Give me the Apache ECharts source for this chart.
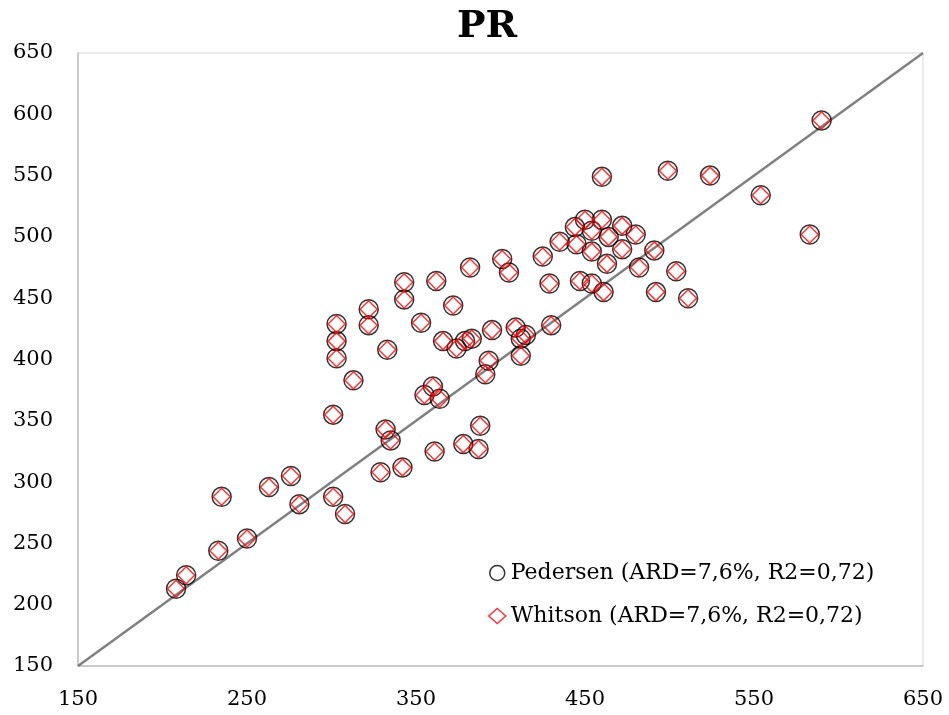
<!DOCTYPE html>
<html>
<head>
<meta charset="utf-8">
<script src="https://cdn.jsdelivr.net/npm/echarts@6/dist/echarts.min.js"></script>
<style>
html,body{margin:0;padding:0;background:#fff;}
#chart{width:949px;height:715px;}
</style>
</head>
<body>
<div id="chart"></div>
<script>
// Experimental values (x)
const expPR = [208,214,233,250,235,263,276,281,301,308,301,303,303,303,313,322,322,333,332,335,329,342,343,343,353,355,360,364,361,362,366,372,374,379,383,378,387,388,382,391,393,395,401,405,409,412,415,412,425,429,430,435,444,445,447,450,454,454,454,460,460,461,463,464,472,472,480,482,491,492,499,504,511,524,554,583,590];
// Calculated values (y)
const pedersenPR = [213,224,244,254,288,296,305,282,288,274,355,401,415,429,383,441,428,408,343,334,308,312,463,449,430,371,378,368,325,464,415,444,409,415,417,331,327,346,475,388,399,424,482,471,426,417,420,403,484,462,428,496,508,494,464,514,505,488,462,514,549,455,478,500,509,490,502,475,489,455,554,472,450,550,534,502,595];
const whitsonPR = [213,224,244,254,288,296,305,282,288,274,355,401,415,429,383,441,428,408,343,334,308,312,463,449,430,371,378,368,325,464,415,444,409,415,417,331,327,346,475,388,399,424,482,471,426,417,420,403,484,462,428,496,508,494,464,514,505,488,462,514,549,455,478,500,509,490,502,475,489,455,554,472,450,550,534,502,595];
const identityLine = [150, 650];
const xTicks = [150,250,350,450,550,650];
const yTicks = [150,200,250,300,350,400,450,500,550,600,650];
const seriesNames = ['Pedersen (ARD=7,6%, R2=0,72)', 'Whitson (ARD=7,6%, R2=0,72)'];
const chartTitle = 'PR';

const FONT = 'DejaVu Serif';
const chart = echarts.init(document.getElementById('chart'), null, {renderer: 'canvas'});
const pedData = expPR.map((x, i) => [x, pedersenPR[i]]);
const whiData = expPR.map((x, i) => [x, whitsonPR[i]]);
const lineData = identityLine.map(v => [v, v]);

chart.setOption({
  animation: false,
  backgroundColor: '#fff',
  title: {
    text: chartTitle,
    left: 452, top: 3,
    textStyle: {fontFamily: FONT, fontWeight: 'bold', fontSize: 38, color: '#000'}
  },
  grid: {left: 78, right: 26, top: 53, bottom: 49, show: true, borderColor: '#d9d9d9', borderWidth: 1},
  legend: {
    orient: 'vertical',
    left: 483, top: 557,
    itemWidth: 17, itemHeight: 15, itemGap: 21,
    textStyle: {fontFamily: FONT, fontSize: 22, color: '#000'},
    data: [
      {name: seriesNames[0], icon: 'circle', itemStyle: {color: 'rgba(255,255,255,0)', borderColor: '#000', borderWidth: 1.5}},
      {name: seriesNames[1], icon: 'diamond', itemStyle: {color: 'rgba(255,255,255,0)', borderColor: '#ff0000', borderWidth: 1.5}}
    ]
  },
  xAxis: {
    type: 'value', min: 150, max: 650,
    axisLine: {show: true, onZero: false, lineStyle: {color: '#bfbfbf', width: 1.5}},
    axisTick: {show: false},
    splitLine: {show: false},
    axisLabel: {customValues: xTicks, fontFamily: FONT, fontSize: 21, color: '#000', margin: 23, showMinLabel: true, showMaxLabel: true}
  },
  yAxis: {
    type: 'value', min: 150, max: 650,
    axisLine: {show: true, onZero: false, lineStyle: {color: '#bfbfbf', width: 1.5}},
    axisTick: {show: false},
    splitLine: {show: false},
    axisLabel: {customValues: yTicks, fontFamily: FONT, fontSize: 21, color: '#000', margin: 25, showMinLabel: true, showMaxLabel: true}
  },
  series: [
    {
      type: 'line', data: lineData, symbol: 'none', silent: true, z: 1,
      lineStyle: {color: '#808080', width: 2.5}
    },
    {
      name: seriesNames[0], type: 'scatter', data: pedData, symbol: 'circle', symbolSize: 19, z: 2,
      itemStyle: {color: 'rgba(255,255,255,0)', borderColor: '#000', borderWidth: 1.5}
    },
    {
      name: seriesNames[1], type: 'scatter', data: whiData, symbol: 'diamond', symbolSize: 17, z: 3,
      itemStyle: {color: 'rgba(255,255,255,0)', borderColor: '#ff0000', borderWidth: 1.5}
    }
  ]
});
</script>
</body>
</html>
